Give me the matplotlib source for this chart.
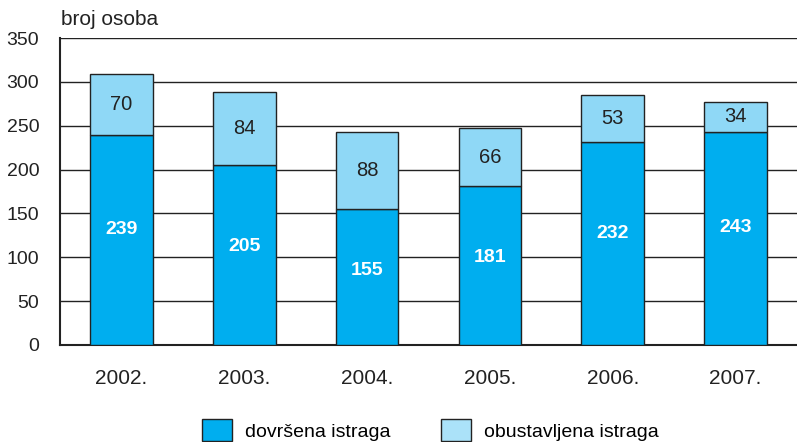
import matplotlib.pyplot as plt
from matplotlib.patches import Patch
import numpy as np

plt.rcParams['font.family'] = ['Liberation Sans', 'DejaVu Sans']

years = ['2002.', '2003.', '2004.', '2005.', '2006.', '2007.']
dovrsena = [239, 205, 155, 181, 232, 243]
obustavljena = [70, 84, 88, 66, 53, 34]
yticks = [0, 50, 100, 150, 200, 250, 300, 350]
series_names = ['dovršena istraga', 'obustavljena istraga']

dark = '#00aeef'
light = '#8fd8f6'
light_legend = '#abe2f9'

fig = plt.figure(figsize=(7.97, 4.42), dpi=100)
ax = fig.add_axes([0.0753, 0.2195, 0.9247, 0.6945])

x = np.arange(len(years))
w = 0.51
ax.bar(x, dovrsena, w, color=dark, edgecolor='#222222', linewidth=1.0, zorder=3)
ax.bar(x, obustavljena, w, bottom=dovrsena, color=light, edgecolor='#222222',
       linewidth=1.0, zorder=3)

for xi, d, o in zip(x, dovrsena, obustavljena):
    ax.text(xi, d * 0.55, str(d), ha='center', va='center', color='white',
            fontsize=14, fontweight='bold', zorder=4)
    ax.text(xi, d + o / 2, str(o), ha='center', va='center', color='#222222',
            fontsize=14.5, zorder=4)

ax.set_xlim(-0.5, len(years) - 0.5)
ax.set_ylim(0, 350)
ax.set_yticks(yticks)
ax.set_xticks(x)
ax.set_xticklabels(years)
ax.tick_params(axis='both', length=0, colors='#222222')
ax.tick_params(axis='y', pad=15, labelsize=14)
ax.tick_params(axis='x', pad=17, labelsize=15)
ax.yaxis.grid(True, color='#222222', linewidth=1.0, zorder=0)
for s in ['top', 'right']:
    ax.spines[s].set_visible(False)
for s in ['left', 'bottom']:
    ax.spines[s].set_linewidth(1.5)
    ax.spines[s].set_color('#222222')

fig.text(0.077, 0.955, 'broj osoba', fontsize=15, color='#222222', va='center')

handles = [Patch(facecolor=dark, edgecolor='#222222', linewidth=1.0),
           Patch(facecolor=light_legend, edgecolor='#222222', linewidth=1.0)]
fig.legend(handles, series_names, loc='upper center', bbox_to_anchor=(0.54, 0.052),
           ncol=2, frameon=False, fontsize=14, handlelength=1.55, handleheight=1.4,
           columnspacing=2.6, handletextpad=0.67, borderaxespad=0, borderpad=0)

fig.savefig('out.png', dpi=100)
